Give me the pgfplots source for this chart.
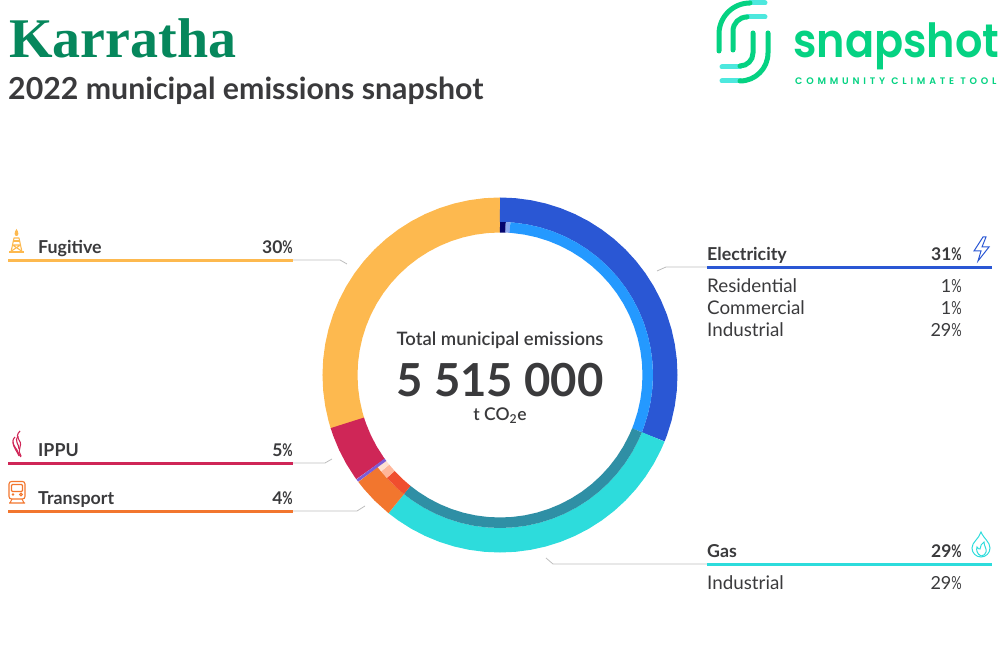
\documentclass[border=0pt]{standalone}
\usepackage{fontspec}
\usepackage{pgfplots}
\pgfplotsset{compat=1.18}
\setmainfont{Lato}
\newfontfamily\med{Lato Semibold}
\newfontfamily\logofont{Poppins SemiBold}
\newfontfamily\logosmall[LetterSpace=40]{Poppins SemiBold}
\newfontfamily\titlefont{Liberation Serif}
\newcommand\fs[1]{\fontsize{#1bp}{#1bp}\selectfont}
\newcommand\pct[1]{#1\scalebox{.72}[1]{\%}}
\definecolor{txt}{HTML}{3A3A3C}
\definecolor{ttl}{HTML}{06875C}
\definecolor{fug}{HTML}{FDB94F}
\definecolor{ippu}{HTML}{CF2657}
\definecolor{trans}{HTML}{F2762E}
\definecolor{purp}{HTML}{7C5CD6}
\definecolor{elec}{HTML}{2A57D4}
\definecolor{indu}{HTML}{2499FF}
\definecolor{resi}{HTML}{04046E}
\definecolor{comm}{HTML}{8AA8F0}
\definecolor{gas}{HTML}{2DDCDC}
\definecolor{gasin}{HTML}{2F8FA5}
\definecolor{road}{HTML}{F04E2E}
\definecolor{salm}{HTML}{FFB69A}
\definecolor{pale}{HTML}{FFE0D0}
\definecolor{leader}{HTML}{BDBDBD}
\definecolor{lgreen}{HTML}{05D282}
\definecolor{lcyan}{HTML}{4DE8DE}
\tikzset{
  tl/.style={anchor=base west,inner sep=0pt,text=txt},
  tr/.style={anchor=base east,inner sep=0pt,text=txt},
  tc/.style={anchor=base,inner sep=0pt,text=txt},
}
\begin{document}
\begin{tikzpicture}
\useasboundingbox (0,0) rectangle (1000bp,670bp);
\begin{axis}[
    at={(0,0)},anchor=south west,
    scale only axis,
    width=1000bp,height=670bp,
    xmin=-500,xmax=500,ymin=-295,ymax=375,
    hide axis,clip=false,
    ring/.style={data cs=polar,no markers,line cap=butt,line join=miter},
    outer/.style={ring,line width=24.5bp},
    inner/.style={ring,line width=10.5bp},
    full/.style={ring,line width=35bp},
]
% (polar angle, mid radius); 90 is the top of the ring, going clockwise
% Fugitive 30%
\addplot[full,fug] coordinates {(-162.2,160)(-162.4,160)(-165,160)(-170,160)(-175,160)(-180,160)(-185,160)(-190,160)(-195,160)(-200,160)(-205,160)(-210,160)(-215,160)(-220,160)(-225,160)(-230,160)(-235,160)(-240,160)(-245,160)(-250,160)(-255,160)(-260,160)(-265,160)(-269.8,160)(-270,160)};
% IPPU 5%
\addplot[full,ippu] coordinates {(-144,160)(-144.2,160)(-145,160)(-150,160)(-155,160)(-160,160)(-162.4,160)(-162.6,160)};
% Electricity 31%
\addplot[outer,elec] coordinates {(90,165.25)(89.8,165.25)(85,165.25)(80,165.25)(75,165.25)(70,165.25)(65,165.25)(60,165.25)(55,165.25)(50,165.25)(45,165.25)(40,165.25)(35,165.25)(30,165.25)(25,165.25)(20,165.25)(15,165.25)(10,165.25)(5,165.25)(0,165.25)(-5,165.25)(-10,165.25)(-15,165.25)(-20,165.25)(-21.8,165.25)(-22,165.25)};
\addplot[inner,resi] coordinates {(90,147.75)(87.8,147.75)};
\addplot[inner,comm] coordinates {(87.8,147.75)(86.1,147.75)};
\addplot[inner,indu] coordinates {(86.1,147.75)(85.9,147.75)(85,147.75)(80,147.75)(75,147.75)(70,147.75)(65,147.75)(60,147.75)(55,147.75)(50,147.75)(45,147.75)(40,147.75)(35,147.75)(30,147.75)(25,147.75)(20,147.75)(15,147.75)(10,147.75)(5,147.75)(0,147.75)(-5,147.75)(-10,147.75)(-15,147.75)(-20,147.75)(-21.8,147.75)(-22,147.75)};
% Gas 29%
\addplot[outer,gas] coordinates {(-22,165.25)(-22.2,165.25)(-25,165.25)(-30,165.25)(-35,165.25)(-40,165.25)(-45,165.25)(-50,165.25)(-55,165.25)(-60,165.25)(-65,165.25)(-70,165.25)(-75,165.25)(-80,165.25)(-85,165.25)(-90,165.25)(-95,165.25)(-100,165.25)(-105,165.25)(-110,165.25)(-115,165.25)(-120,165.25)(-125,165.25)(-128.7,165.25)(-128.9,165.25)};
\addplot[inner,gasin] coordinates {(-22,147.75)(-22.2,147.75)(-25,147.75)(-30,147.75)(-35,147.75)(-40,147.75)(-45,147.75)(-50,147.75)(-55,147.75)(-60,147.75)(-65,147.75)(-70,147.75)(-75,147.75)(-80,147.75)(-85,147.75)(-90,147.75)(-95,147.75)(-100,147.75)(-105,147.75)(-110,147.75)(-115,147.75)(-120,147.75)(-125,147.75)(-128.7,147.75)(-128.9,147.75)};
% Transport 4%
\addplot[outer,trans] coordinates {(-128.9,165.25)(-129.1,165.25)(-135,165.25)(-140,165.25)(-142.8,165.25)(-143,165.25)};
\addplot[inner,road] coordinates {(-128.9,147.75)(-129.1,147.75)(-133,147.75)(-137.5,147.75)(-137.7,147.75)};
\addplot[inner,salm] coordinates {(-137.7,147.75)(-141,147.75)};
\addplot[inner,pale] coordinates {(-141,147.75)(-143,147.75)};
% thin sliver between Transport and IPPU
\addplot[full,purp] coordinates {(-143,160)(-144,160)};
\end{axis}

\begin{scope}[x=1bp,y=-1bp,yshift=670bp]
% header
\node[anchor=base west,inner sep=0pt,text=ttl] at (9,58) {\titlefont\fs{56}\bfseries Karratha};
\node[tl] at (8,100) {\fs{30.3}\bfseries 2022 municipal emissions snapshot};

% logo
\begin{scope}[line cap=round,line width=5bp]
  \draw[lcyan] (750,3) -- (765,3);
  \draw[lgreen] (719,51) -- (719,34) arc[start angle=180,end angle=270,radius=31];
  \draw[lcyan] (747,17) -- (765,17);
  \draw[lgreen] (733,50) -- (733,31) arc[start angle=180,end angle=270,radius=14];
  \draw[lcyan] (740,67) -- (722,67);
  \draw[lgreen] (753,33) -- (753,53) arc[start angle=0,end angle=90,radius=13];
  \draw[lcyan] (740,81) -- (722,81);
  \draw[lgreen] (768,33) -- (768,53) arc[start angle=0,end angle=90,radius=28];
\end{scope}
\node[anchor=base west,inner sep=0pt,text=lgreen] at (793,58) {\scalebox{.915}[1]{\logofont\fs{47}snapshot}};
\node[anchor=base west,inner sep=0pt,text=lgreen] at (795,85) {\logosmall\fs{9.5}COMMUNITY CLIMATE TOOL};

% leaders
\draw[leader,line width=.8bp] (293,260) -- (340,260) -- (347,264);
\draw[leader,line width=.8bp] (293,463) -- (325,463) -- (332,459);
\draw[leader,line width=.8bp] (293,511) -- (357,511) -- (365,506);
\draw[leader,line width=.8bp] (707,267) -- (666,267) -- (657,271);
\draw[leader,line width=.8bp] (707,564) -- (553,564) -- (546,558);

% left blocks
\draw[fug,line width=3bp] (8,260.5) -- (293,260.5);
\node[tl] at (38,254) {\fs{17.8}\bfseries Fugitive};
\node[tr] at (293,254) {\fs{17.5}\bfseries\pct{30}};
\draw[ippu,line width=3bp] (8,464) -- (293,464);
\node[tl] at (38,457) {\fs{17.8}\bfseries IPPU};
\node[tr] at (293,457) {\fs{17.5}\bfseries\pct{5}};
\draw[trans,line width=3bp] (8,511.5) -- (293,511.5);
\node[tl] at (38,505) {\fs{17.8}\bfseries Transport};
\node[tr] at (293,505) {\fs{17.5}\bfseries\pct{4}};

% right blocks
\draw[elec,line width=3bp] (707,267.5) -- (992,267.5);
\node[tl] at (707,261) {\fs{17.8}\bfseries Electricity};
\node[tr] at (962,261) {\fs{17.5}\bfseries\pct{31}};
\node[tl] at (707,293) {\fs{18.8}Residential};
\node[tr] at (962,293) {\fs{18}\pct{1}};
\node[tl] at (707,315) {\fs{18.8}Commercial};
\node[tr] at (962,315) {\fs{18}\pct{1}};
\node[tl] at (707,337) {\fs{18.8}Industrial};
\node[tr] at (962,337) {\fs{18}\pct{29}};
\draw[gas,line width=3bp] (707,564.5) -- (992,564.5);
\node[tl] at (707,558) {\fs{17.8}\bfseries Gas};
\node[tr] at (962,558) {\fs{17.5}\bfseries\pct{29}};
\node[tl] at (707,590) {\fs{18.8}Industrial};
\node[tr] at (962,590) {\fs{18}\pct{29}};

% centre text
\node[tc] at (500,346) {\med\fs{18.5}Total municipal emissions};
\node[tc] at (500,397) {\fs{45.5}\bfseries 5 515 000};
\node[tc] at (500,421) {\med\fs{17.5}t CO\textsubscript{2}e};

% icons
\begin{scope}[fug,line width=1.1bp,line join=round]
  \draw (9,252) -- (24,252);
  \draw (11,252) -- (14,238) -- (19,238) -- (22,252);
  \draw (13.5,241) -- (19.5,241);
  \draw (12.5,245) -- (20.5,245) (11.5,251) -- (20.5,245) (21.5,251) -- (12.5,245);
  \fill (16.5,229) .. controls (19,232) and (19,236) .. (16.5,236) .. controls (14,236) and (14,232) .. (16.5,229);
\end{scope}
\begin{scope}[ippu,line width=1.1bp]
  \draw (20,431) .. controls (13,438) and (23,440) .. (20,447) .. controls (19,451) and (19,454) .. (21,456);
  \draw (15,437) .. controls (10,442) and (15,447) .. (17,450) .. controls (18,453) and (19,455) .. (21,457);
  \draw (18,436) .. controls (14,441) and (19,444) .. (19,449);
  \draw (13,442) .. controls (13,447) and (17,451) .. (19,456);
\end{scope}
\begin{scope}[trans,line width=1.1bp]
  \draw[rounded corners=2.5bp] (9,481.5) rectangle (25,499);
  \draw[rounded corners=1bp] (11.5,484.5) rectangle (22.5,491.5);
  \fill (13,494.5) circle (1.4);
  \draw (21,494.5) circle (1.3);
  \draw (12,499) -- (10,503) (22,499) -- (24,503) (9,503) -- (25,503);
\end{scope}
\draw[elec,line width=1bp,line join=miter] (983,237) -- (974,251) -- (981,251) -- (978,261) -- (989,247) -- (982,247) -- (986,237) -- cycle;
\begin{scope}[gas,line width=1bp]
  \draw (981,532) .. controls (984,539) and (990,542) .. (990,548) .. controls (990,553) and (986,557) .. (981,557) .. controls (976,557) and (972,553) .. (972,548) .. controls (972,542) and (979,539) .. (981,532) -- cycle;
  \draw (981,556) .. controls (977,554) and (976,550) .. (977,547) .. controls (978,549) and (979,549) .. (980,549) .. controls (980,546) and (982,543) .. (984,542) .. controls (984,546) and (987,549) .. (986,552) .. controls (985.5,554) and (984,556) .. (981,556);
\end{scope}
\end{scope}
\end{tikzpicture}
\end{document}
